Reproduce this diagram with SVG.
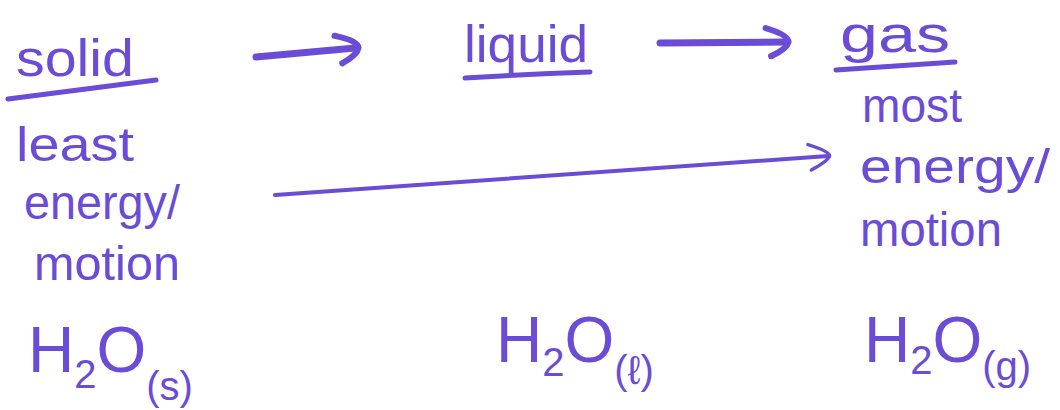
<svg xmlns="http://www.w3.org/2000/svg" width="1060" height="410" viewBox="0 0 1060 410">
<style>
.t{font-family:"Liberation Sans","DejaVu Sans",sans-serif;fill:#6a4cd6;}
.w{font-size:52px;}
.m{font-size:48px;}
.f{font-size:64px;}
.s{font-size:40px;}
.ink{stroke:#6a4cd6;fill:none;stroke-linecap:round;stroke-linejoin:round;}
</style>
<defs>
<marker id="ah" viewBox="0 0 20 20" refX="14" refY="10" markerWidth="5" markerHeight="5" orient="auto" markerUnits="strokeWidth">
<path d="M3,2 Q16,6 16,10 Q15,14 6,18" fill="none" stroke="#6a4cd6" stroke-width="3.5" stroke-linecap="round"/>
</marker>
<marker id="ahl" viewBox="0 0 20 20" refX="15" refY="10" markerWidth="8" markerHeight="8" orient="auto" markerUnits="strokeWidth">
<path d="M3,2 Q16,7 16,10 Q15,13 4,18" fill="none" stroke="#6a4cd6" stroke-width="2.2" stroke-linecap="round"/>
</marker>
</defs>
<rect width="1060" height="410" fill="#ffffff"/>
<g id="solid">
<text class="t w" x="16" y="76" textLength="118" lengthAdjust="spacingAndGlyphs">solid</text>
<path class="ink" d="M8,99 Q80,90 156,80" stroke-width="5"/>
<text class="t m" x="16" y="161" textLength="118" lengthAdjust="spacingAndGlyphs">least</text>
<text class="t m" x="24" y="219" textLength="156" lengthAdjust="spacingAndGlyphs">energy/</text>
<text class="t m" x="34" y="280" textLength="146" lengthAdjust="spacingAndGlyphs">motion</text>
<text class="t" x="28" y="372"><tspan class="f">H</tspan><tspan class="s" dy="16">2</tspan><tspan class="f" dy="-16">O</tspan><tspan class="s" dy="28">(s)</tspan></text>
</g>
<g id="liquid">
<text class="t w" x="464" y="62" textLength="124" lengthAdjust="spacingAndGlyphs">liquid</text>
<path class="ink" d="M465,78 Q530,74 590,72" stroke-width="5"/>
<text class="t" x="496" y="362"><tspan class="f">H</tspan><tspan class="s" dy="14">2</tspan><tspan class="f" dy="-14">O</tspan><tspan class="s" dy="22">(ℓ)</tspan></text>
</g>
<g id="gas">
<text class="t w" x="840" y="52" textLength="110" lengthAdjust="spacingAndGlyphs">gas</text>
<path class="ink" d="M836,70 Q895,66 955,62" stroke-width="5"/>
<text class="t m" x="862" y="122" textLength="100" lengthAdjust="spacingAndGlyphs">most</text>
<text class="t m" x="860" y="183" textLength="190" lengthAdjust="spacingAndGlyphs">energy/</text>
<text class="t m" x="860" y="246" textLength="142" lengthAdjust="spacingAndGlyphs">motion</text>
<text class="t" x="864" y="362"><tspan class="f">H</tspan><tspan class="s" dy="12">2</tspan><tspan class="f" dy="-12">O</tspan><tspan class="s" dy="18">(g)</tspan></text>
</g>
<g id="connectors">
<path class="ink" d="M256,57 L355,48" stroke-width="7" marker-end="url(#ah)"/>
<path class="ink" d="M660,43 L785,42" stroke-width="7" marker-end="url(#ah)"/>
<path class="ink" d="M275,195 L828,156" stroke-width="4" marker-end="url(#ahl)"/>
</g>
</svg>
